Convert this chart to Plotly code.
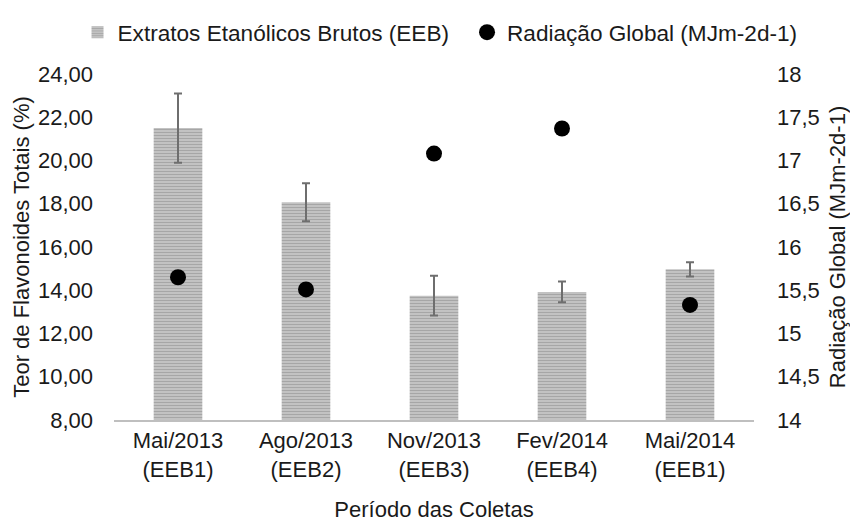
import plotly.graph_objects as go

# Collection periods (two-line tick labels)
periodos = ["Mai/2013<br>(EEB1)", "Ago/2013<br>(EEB2)", "Nov/2013<br>(EEB3)",
            "Fev/2014<br>(EEB4)", "Mai/2014<br>(EEB1)"]

# Total flavonoid content (%) with standard deviation
flavonoides = [21.5, 18.07, 13.75, 13.92, 14.97]
desvio = [1.6, 0.88, 0.92, 0.48, 0.33]

# Global radiation (MJm-2d-1)
radiacao = [15.65, 15.51, 17.08, 17.37, 15.33]

left_ticks = [8, 10, 12, 14, 16, 18, 20, 22, 24]
left_labels = ["8,00", "10,00", "12,00", "14,00", "16,00", "18,00", "20,00", "22,00", "24,00"]
right_ticks = [14, 14.5, 15, 15.5, 16, 16.5, 17, 17.5, 18]
right_labels = ["14", "14,5", "15", "15,5", "16", "16,5", "17", "17,5", "18"]

FONT = "Liberation Sans, Arial, sans-serif"
TXT = "#1a1a1a"
FS = 22
LEG_FS = 22.6

fig = go.Figure()

fig.add_trace(go.Bar(
    x=periodos, y=flavonoides,
    name="Extratos Etanólicos Brutos (EEB)",
    width=0.38,
    marker=dict(
        color="#c4c4c4",
        line=dict(width=0),
        pattern=dict(shape="-", fgcolor="#828282", bgcolor="#cbcbcb",
                     size=3, solidity=0.5, fillmode="overlay"),
    ),
    error_y=dict(type="data", array=desvio, visible=True,
                 color="#6e6e6e", thickness=2, width=4),
    yaxis="y",
    legend="legend",
))

fig.add_trace(go.Scatter(
    x=periodos, y=radiacao,
    name="Radiação Global (MJm-2d-1)",
    mode="markers",
    marker=dict(color="#000000", size=16, symbol="circle"),
    yaxis="y2",
    legend="legend2",
))

fig.update_layout(
    width=850, height=522,
    margin=dict(l=114, r=96, t=74, b=102, autoexpand=False),
    paper_bgcolor="white", plot_bgcolor="white",
    font=dict(family=FONT, size=FS, color=TXT),
    showlegend=True,
    legend=dict(orientation="h", x=-0.057, xanchor="left",
                y=1.12, yanchor="middle",
                font=dict(size=LEG_FS, color=TXT), itemwidth=30),
    legend2=dict(orientation="h", x=0.5516, xanchor="left",
                 y=1.12, yanchor="middle",
                 font=dict(size=LEG_FS, color=TXT), itemwidth=30),
    xaxis=dict(
        showgrid=False, showline=True, linecolor="#bfbfbf", linewidth=2,
        ticks="", tickfont=dict(size=FS, color=TXT),
        title=dict(text="Período das Coletas", font=dict(size=FS, color=TXT), standoff=21),
    ),
    yaxis=dict(
        range=[8, 24], tickvals=left_ticks, ticktext=left_labels,
        showgrid=False, zeroline=False, showline=False, ticks="",
        ticklabelstandoff=20,
        tickfont=dict(size=FS, color=TXT),
        title=dict(text="Teor de Flavonoides Totais (%)", font=dict(size=FS, color=TXT), standoff=2),
    ),
    yaxis2=dict(
        range=[14, 18], tickvals=right_ticks, ticktext=right_labels,
        overlaying="y", side="right",
        showgrid=False, zeroline=False, showline=False, ticks="",
        ticklabelstandoff=22,
        tickfont=dict(size=FS, color=TXT),
        title=dict(text="Radiação Global (MJm-2d-1)", font=dict(size=FS, color=TXT), standoff=10),
    ),
)

fig.write_html("out.html")
